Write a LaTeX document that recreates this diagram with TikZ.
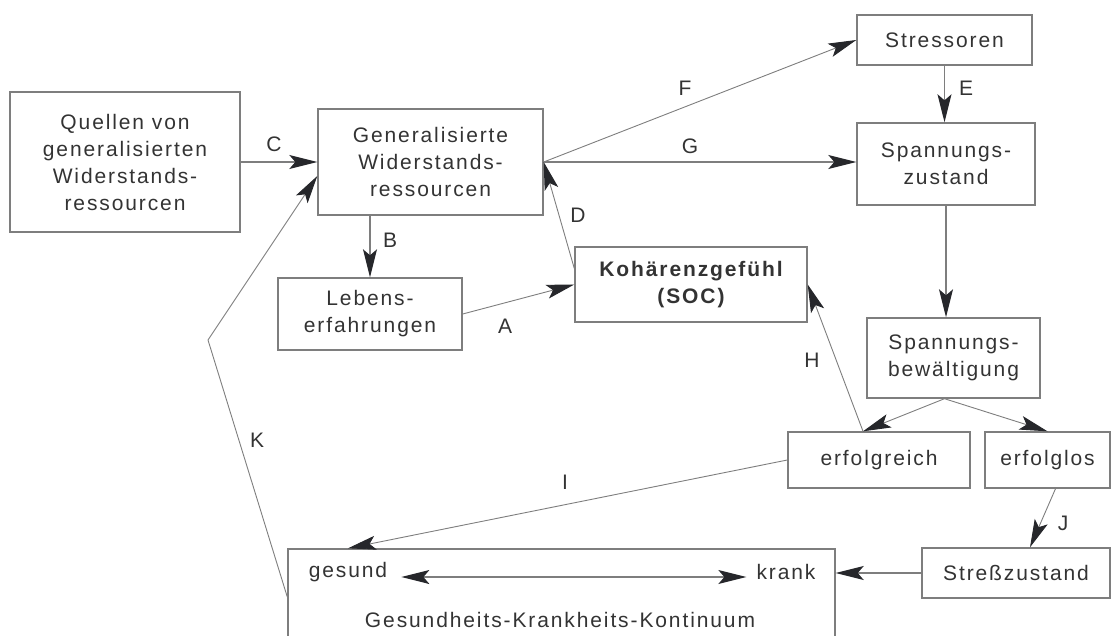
\documentclass[tikz,border=0pt]{standalone}
\usepackage{fontspec}
\usepackage{tikz}
\usetikzlibrary{arrows.meta,calc}
\newfontfamily\diafont{Liberation Sans}[LetterSpace=9]
\definecolor{inkc}{HTML}{333333}
\definecolor{linec}{HTML}{7E7E7E}
\definecolor{tipc}{HTML}{26272B}
\tikzset{
  >={Stealth[length=28pt,width=14pt,inset=6pt,color=tipc]},
  box/.style={draw=linec,line width=1.4pt,align=center,inner sep=0pt,text=inkc},
  lbl/.style={text=inkc,inner sep=0pt},
  arr/.style={draw=linec,line width=1.2pt,->},
  thin/.style={line width=0.9pt}
}

\begin{document}
\begin{tikzpicture}[x=1pt,y=-1pt,font=\diafont\fontsize{21}{27}\selectfont]
    \useasboundingbox (0,0) rectangle (1115,636);
    \node[box,minimum width=230,minimum height=140] (quellen) at (125,162)
        {Quellen von\\generalisierten\\Widerstands-\\ressourcen};
    \node[box,minimum width=225,minimum height=106] (gen) at (430.5,162)
        {Generalisierte\\Widerstands-\\ressourcen};
    \node[box,minimum width=175,minimum height=50] (stress) at (944.5,40) {Stressoren};
    \node[box,minimum width=178,minimum height=82] (spz) at (946,164) {Spannungs-\\zustand};
    \node[box,minimum width=184,minimum height=72] (leb) at (370,314) {Lebens-\\erfahrungen};
    \node[box,minimum width=232,minimum height=75,font=\diafont\bfseries\fontsize{21}{27}\selectfont]
        (koh) at (691,284.5) {Kohärenzgefühl\\(SOC)};
    \node[box,minimum width=173,minimum height=80] (spb) at (953.5,358) {Spannungs-\\bewältigung};
    \node[box,minimum width=182,minimum height=56] (erfr) at (879,460) {erfolgreich};
    \node[box,minimum width=125,minimum height=56] (erfl) at (1047.5,460) {erfolglos};
    \node[box,minimum width=188,minimum height=50] (strz) at (1016,573) {Streßzustand};
    \node[box,minimum width=547,minimum height=96] (kont) at (561.5,597) {};
    \node[lbl] (gesund) at (348,572) {gesund};
    \node[lbl] (krank) at (786,572) {krank};
    \node[lbl] (kontlbl) at (560,620) {Gesundheits-Krankheits-Kontinuum};
    \coordinate (kbend) at (208,340);

    \draw[arr] (quellen.east) -- (quellen.east -| gen.west);
    \draw[arr] (gen.south -| leb.north) -- (leb.north);
    \draw[arr,thin] (leb.east) -- (koh.west);
    \draw[arr,thin] ([yshift=16pt]koh.west) -- (gen.east);
    \draw[arr,thin] (gen.east) -- (stress.west);
    \draw[arr] (gen.east) -- (gen.east -| spz.west);
    \draw[arr] (stress.south) -- (stress.south |- spz.north);
    \draw[arr] (spz.south) -- (spz.south |- spb.north);
    \draw[arr,thin] ([xshift=-9pt]spb.south) -- ([xshift=-16pt]erfr.north);
    \draw[arr,thin] ([xshift=-9pt]spb.south) -- (erfl.north);
    \draw[arr,thin] ([xshift=-16pt]erfr.north) -- (koh.east);
    \draw[arr,thin] (erfr.west) -- (gesund |- kont.north);
    \draw[arr,thin] ([xshift=8pt]erfl.south) -- ([xshift=14pt]strz.north);
    \draw[arr] (strz.west) -- (strz.west -| kont.east);
    \draw[arr,<->] ([shift={(14pt,-5pt)}]gesund.east) -- ([shift={(-10pt,-5pt)}]krank.west);
    \draw[arr,thin] (kont.west) -- (kbend) -- ([yshift=-14pt]gen.west);

    \node[lbl] (labC) at (274,144) {C};
    \node[lbl] (labB) at (390,240) {B};
    \node[lbl] (labA) at (505,326) {A};
    \node[lbl] (labD) at (578,215) {D};
    \node[lbl] (labF) at (685,88) {F};
    \node[lbl] (labG) at (690,146) {G};
    \node[lbl] (labE) at (966,88) {E};
    \node[lbl] (labH) at (812,360) {H};
    \node[lbl] (labI) at (565,482) {I};
    \node[lbl] (labJ) at (1063,523) {J};
    \node[lbl] (labK) at (257,440) {K};
\end{tikzpicture}
\end{document}
